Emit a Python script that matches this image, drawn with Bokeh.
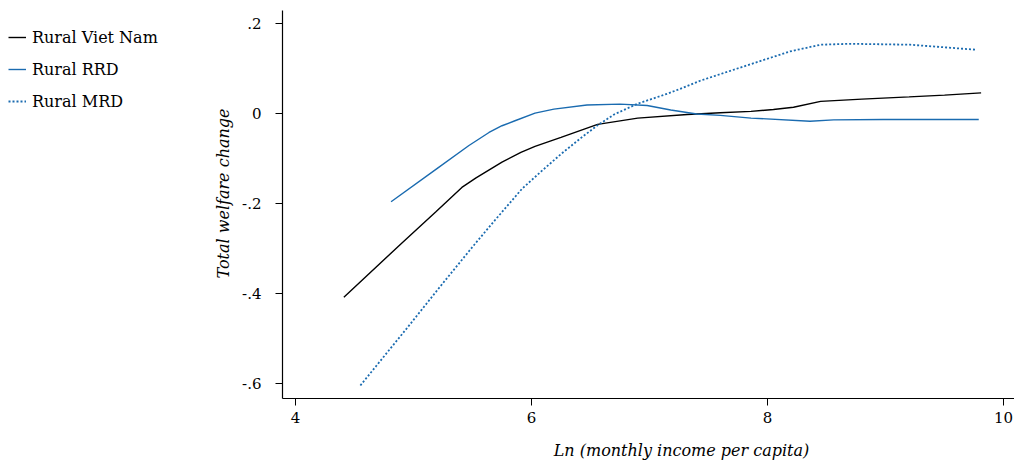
from bokeh.plotting import figure
from bokeh.layouts import row, column
from bokeh.models import (Legend, LegendItem, CustomJSTickFormatter, FixedTicker,
                          Range1d, Title, Label)
from bokeh.embed import file_html
from bokeh.resources import INLINE

# Log of monthly income per capita (x) and total welfare change (y)
vn_x = [4.41, 4.90, 5.19, 5.41, 5.53, 5.75, 5.91, 6.03, 6.25, 6.56, 6.90, 7.32, 7.60,
        7.86, 8.05, 8.22, 8.45, 8.80, 9.20, 9.50, 9.81]
vn_y = [-0.408, -0.288, -0.218, -0.164, -0.143, -0.108, -0.086, -0.073, -0.053, -0.024,
        -0.010, -0.002, 0.002, 0.005, 0.009, 0.014, 0.027, 0.032, 0.037, 0.041, 0.046]

rrd_x = [4.81, 5.19, 5.47, 5.64, 5.75, 5.86, 6.03, 6.19, 6.47, 6.75, 6.98, 7.18, 7.40,
         7.60, 7.86, 8.36, 8.56, 8.98, 9.40, 9.79]
rrd_y = [-0.196, -0.124, -0.071, -0.042, -0.027, -0.016, 0.001, 0.010, 0.019, 0.021,
         0.018, 0.008, -0.001, -0.004, -0.010, -0.017, -0.014, -0.013, -0.013, -0.013]

mrd_x = [4.55, 4.95, 5.23, 5.51, 5.68, 5.92, 6.08, 6.25, 6.42, 6.56, 6.70, 6.90, 7.15,
         7.26, 7.43, 7.86, 8.19, 8.45, 8.70, 9.21, 9.76]
mrd_y = [-0.604, -0.475, -0.383, -0.293, -0.240, -0.167, -0.129, -0.090, -0.054, -0.026,
         -0.002, 0.022, 0.044, 0.055, 0.073, 0.110, 0.138, 0.153, 0.155, 0.153, 0.142]

series_names = ["Rural Viet Nam", "Rural RRD", "Rural MRD"]
x_ticks = [4, 6, 8, 10]
y_ticks = [-0.6, -0.4, -0.2, 0, 0.2]
x_title_text = "Ln (monthly income per capita)"
y_title_text = "Total welfare change"

SERIF = "DejaVu Serif"
BLUE = "#1a6bb0"
LEGEND_W = 180
MAIN_W = 1014 - LEGEND_W
H = 461
XT_H = 31
MAIN_BORDER_LEFT = 282 - LEGEND_W

styles = [dict(line_color="black", line_width=1.4),
          dict(line_color=BLUE, line_width=1.4),
          dict(line_color=BLUE, line_width=1.8, line_dash="2 2")]

# ---- main chart ----
p = figure(width=MAIN_W, height=H - XT_H, output_backend="svg", toolbar_location=None,
           x_range=Range1d(3.89, 10.093), y_range=Range1d(-0.633, 0.229),
           min_border_left=MAIN_BORDER_LEFT, min_border_right=0,
           min_border_top=10, min_border_bottom=32)
p.outline_line_color = None
p.xgrid.visible = False
p.ygrid.visible = False

p.line(vn_x, vn_y, **styles[0])
p.line(rrd_x, rrd_y, **styles[1])
p.line(mrd_x, mrd_y, **styles[2])

for ax in (p.xaxis[0], p.yaxis[0]):
    ax.axis_line_color = "black"
    ax.axis_line_width = 1.2
    ax.major_tick_line_color = "black"
    ax.major_tick_out = 7
    ax.major_tick_in = 0
    ax.minor_tick_line_color = None
    ax.major_label_text_font = SERIF
    ax.major_label_text_font_size = "15px"
    ax.major_label_text_color = "black"

p.xaxis.ticker = FixedTicker(ticks=x_ticks)
p.yaxis.ticker = FixedTicker(ticks=y_ticks)
p.xaxis.major_label_standoff = 6
p.yaxis.major_label_orientation = "horizontal"
p.yaxis.major_label_standoff = 14
p.yaxis.formatter = CustomJSTickFormatter(code="""
    if (Math.abs(tick) < 1e-9) return "0";
    const s = Math.abs(tick).toFixed(1).replace(/^0/, "");
    return (tick < 0 ? "-" : "") + s;
""")

y_title = Title(text=y_title_text, align="left", offset=120,
                text_font=SERIF, text_font_style="italic", text_font_size="16px",
                text_color="black", standoff=14)
p.add_layout(y_title, "left")

# ---- x-axis title strip (its frame lines up with the chart frame) ----
xt = figure(width=MAIN_W, height=XT_H, output_backend="svg", toolbar_location=None,
            x_range=Range1d(0, 1), y_range=Range1d(0, 1), min_border=0,
            x_axis_location=None, y_axis_location=None)
xt.outline_line_color = None
xt.xgrid.visible = False
xt.ygrid.visible = False
xt.add_layout(Label(x=399, y=11, x_units="screen", y_units="screen",
                    text=x_title_text, text_align="center", text_baseline="middle",
                    text_font=SERIF, text_font_style="italic", text_font_size="16px",
                    text_color="black"))

# ---- legend panel ----
lg = figure(width=LEGEND_W, height=H, output_backend="svg", toolbar_location=None,
            x_range=Range1d(0, 1), y_range=Range1d(0, 1),
            min_border=0, x_axis_location=None, y_axis_location=None)
lg.outline_line_color = None
lg.xgrid.visible = False
lg.ygrid.visible = False
# key renderers sit outside the visible range; only their legend swatches show
keys = [lg.line([5, 6], [5, 6], **s) for s in styles]

legend = Legend(items=[LegendItem(label=n, renderers=[r]) for n, r in zip(series_names, keys)],
                location=(8, 350))
legend.border_line_color = None
legend.background_fill_alpha = 0
legend.padding = 0
legend.margin = 0
legend.spacing = 12
legend.glyph_width = 18
legend.glyph_height = 20
legend.label_height = 20
legend.label_standoff = 6
legend.label_text_font = SERIF
legend.label_text_font_size = "16px"
legend.label_text_color = "black"
lg.add_layout(legend, "center")

layout = row(lg, column(p, xt, spacing=0), spacing=0)
open("out.html", "w").write(file_html(layout, INLINE))
